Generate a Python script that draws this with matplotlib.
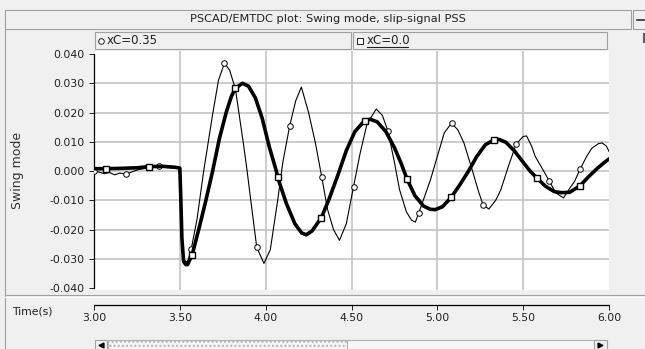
import matplotlib
matplotlib.use("Agg")
import matplotlib.pyplot as plt
from matplotlib.patches import Rectangle
from matplotlib.lines import Line2D

W, H = 645, 349
BG = "#f0f0f0"
EDGE = "#a0a0a0"
GRID = "#c4c4c4"

# xC=0.35 : thin trace, circle markers
t_035 = [3.000, 3.030, 3.060, 3.090, 3.120, 3.150, 3.187, 3.220, 3.260, 3.300,
         3.340, 3.377, 3.420, 3.470, 3.500, 3.505, 3.512, 3.522, 3.537, 3.548,
         3.567, 3.600, 3.639, 3.690, 3.725, 3.760, 3.790, 3.824, 3.870, 3.892,
         3.910, 3.948, 3.990, 4.027, 4.070, 4.100, 4.140, 4.175, 4.208, 4.250,
         4.290, 4.327, 4.360, 4.395, 4.430, 4.470, 4.512, 4.550, 4.590, 4.644,
         4.680, 4.712, 4.750, 4.780, 4.820, 4.850, 4.872, 4.892, 4.930, 4.960,
         5.000, 5.040, 5.083, 5.120, 5.155, 5.200, 5.240, 5.266, 5.300, 5.340,
         5.370, 5.414, 5.459, 5.500, 5.520, 5.550, 5.570, 5.600, 5.651, 5.690,
         5.735, 5.770, 5.800, 5.832, 5.870, 5.900, 5.940, 5.960, 5.985, 6.000]
v_035 = [0.0000, -0.0004, -0.0009, -0.0005, -0.0013, -0.0007, -0.0011, -0.0003, 0.0005, 0.0009,
         0.0014, 0.0016, 0.0012, 0.0010, 0.0008, -0.0080, -0.0220, -0.0300, -0.0312, -0.0305,
         -0.0265, -0.0165, 0.0000, 0.0190, 0.0310, 0.0369, 0.0345, 0.0280, 0.0095, 0.0000,
         -0.0085, -0.0261, -0.0316, -0.0269, -0.0100, 0.0030, 0.0155, 0.0240, 0.0287, 0.0200,
         0.0095, -0.0022, -0.0130, -0.0200, -0.0237, -0.0180, -0.0053, 0.0060, 0.0160, 0.0212,
         0.0190, 0.0137, 0.0030, -0.0064, -0.0140, -0.0168, -0.0175, -0.0143, -0.0080, -0.0030,
         0.0050, 0.0130, 0.0164, 0.0140, 0.0096, 0.0010, -0.0070, -0.0115, -0.0130, -0.0100,
         -0.0064, 0.0016, 0.0092, 0.0118, 0.0120, 0.0084, 0.0050, 0.0020, -0.0033, -0.0075,
         -0.0092, -0.0060, -0.0035, 0.0007, 0.0050, 0.0078, 0.0094, 0.0096, 0.0085, 0.0067]
marks_035 = [3.000, 3.187, 3.377, 3.567, 3.760, 3.948, 4.140, 4.327, 4.512,
             4.712, 4.892, 5.083, 5.266, 5.459, 5.651, 5.832]

# xC=0.0 : thick trace, square markers
t_00 = [3.000, 3.070, 3.150, 3.250, 3.320, 3.400, 3.470, 3.500, 3.505, 3.512,
        3.522, 3.535, 3.545, 3.572, 3.610, 3.650, 3.691, 3.730, 3.770, 3.800,
        3.824, 3.865, 3.900, 3.940, 3.980, 4.020, 4.062, 4.070, 4.120, 4.170,
        4.210, 4.237, 4.270, 4.324, 4.370, 4.420, 4.470, 4.520, 4.576, 4.609,
        4.650, 4.700, 4.750, 4.790, 4.823, 4.870, 4.920, 4.960, 4.988, 5.030,
        5.081, 5.130, 5.182, 5.230, 5.280, 5.332, 5.360, 5.400, 5.450, 5.500,
        5.540, 5.580, 5.630, 5.680, 5.720, 5.770, 5.800, 5.832, 5.880, 5.930,
        5.970, 6.000]
v_00 = [0.0008, 0.0008, 0.0009, 0.0011, 0.0015, 0.0016, 0.0013, 0.0010, -0.0080, -0.0230,
        -0.0310, -0.0320, -0.0320, -0.0286, -0.0200, -0.0105, 0.0000, 0.0110, 0.0200, 0.0255,
        0.0283, 0.0300, 0.0290, 0.0250, 0.0180, 0.0085, 0.0000, -0.0022, -0.0110, -0.0180,
        -0.0212, -0.0218, -0.0205, -0.0160, -0.0095, -0.0015, 0.0070, 0.0135, 0.0172, 0.0177,
        0.0168, 0.0135, 0.0080, 0.0025, -0.0027, -0.0085, -0.0120, -0.0131, -0.0132, -0.0122,
        -0.0090, -0.0048, 0.0000, 0.0050, 0.0090, 0.0107, 0.0108, 0.0098, 0.0068, 0.0030,
        0.0000, -0.0024, -0.0052, -0.0070, -0.0074, -0.0073, -0.0062, -0.0050, -0.0020, 0.0008,
        0.0028, 0.0041]
marks_00 = [3.070, 3.320, 3.572, 3.824, 4.070, 4.324, 4.576, 4.823, 5.081,
            5.332, 5.580, 5.832]

y_ticks = [-0.04, -0.03, -0.02, -0.01, 0.0, 0.01, 0.02, 0.03, 0.04]
x_ticks = [3.0, 3.5, 4.0, 4.5, 5.0, 5.5, 6.0]


def fx(x):
    return x / W


def fy(y):
    return 1 - y / H


def box(fig, x0, y0, x1, y1, face=BG, edge=EDGE, lw=0.8, hatch=None):
    r = Rectangle((fx(x0), fy(y1)), fx(x1) - fx(x0), fy(y0) - fy(y1),
                  transform=fig.transFigure, facecolor=face, edgecolor=edge,
                  linewidth=lw, hatch=hatch)
    fig.add_artist(r)


def hline(fig, x0, x1, y, color=EDGE, lw=0.8):
    fig.add_artist(Line2D([fx(x0), fx(x1)], [fy(y), fy(y)], transform=fig.transFigure,
                          color=color, linewidth=lw))


def vline(fig, x, y0, y1, color=EDGE, lw=0.8):
    fig.add_artist(Line2D([fx(x), fx(x)], [fy(y0), fy(y1)], transform=fig.transFigure,
                          color=color, linewidth=lw))


plt.rcParams["font.family"] = ["DejaVu Sans"]
fig = plt.figure(figsize=(W / 100, H / 100), dpi=100, facecolor=BG)

# frame / title bar
box(fig, 5, 9.5, 630.5, 28.5)
fig.text(fx(328), fy(19.5), "PSCAD/EMTDC plot: Swing mode, slip-signal PSS",
         ha="center", va="center", fontsize=8.2, color="#202020")
box(fig, 633, 9.5, 646, 28.5)
hline(fig, 637, 644, 19.5, color="#303030", lw=1.2)
vline(fig, 5, 28.5, 349)
hline(fig, 5, 645, 295)
hline(fig, 5, 645, 296.5, color="white")
box(fig, 642.5, 33, 646, 42, face="#606060", edge="#606060")

# legend bars
box(fig, 94.5, 32.5, 350.5, 48.5)
box(fig, 352.5, 32.5, 607, 48.5)
fig.add_artist(Line2D([fx(100.5)], [fy(40.5)], transform=fig.transFigure, marker="o",
                      markersize=4, mfc="white", mec="#202020", mew=0.7, linestyle="none"))
fig.text(fx(106.5), fy(40.5), "xC=0.35", ha="left", va="center", fontsize=8.5, color="#202020")
fig.add_artist(Line2D([fx(359.5)], [fy(40.5)], transform=fig.transFigure, marker="s",
                      markersize=4, mfc="white", mec="#202020", mew=0.7, linestyle="none"))
fig.text(fx(366.5), fy(40.5), "xC=0.0", ha="left", va="center", fontsize=8.5, color="#202020")
hline(fig, 366.5, 408, 47, color="#202020", lw=0.8)

# main plot
ax = fig.add_axes([fx(94), fy(290), fx(609) - fx(94), fy(51) - fy(290)])
ax.set_facecolor("white")
ax.set_xlim(3.0, 6.0)
ax.set_ylim(-0.04068, 0.04103)
for v in y_ticks[1:-1]:
    ax.axhline(v, color=GRID, linewidth=1.2, zorder=1)
for t in x_ticks[1:-1]:
    ax.axvline(t, color=GRID, linewidth=1.2, zorder=1)

ax.plot(t_035, v_035, color="black", linewidth=0.8, marker="o", markersize=4,
        markevery=[t_035.index(m) for m in marks_035], mfc="white", mec="black",
        mew=0.7, zorder=3)
ax.plot(t_00, v_00, color="black", linewidth=2.6, marker="s", markersize=4,
        markevery=[t_00.index(m) for m in marks_00], mfc="white", mec="black",
        mew=1.0, zorder=4)

for s in ["top", "right", "bottom"]:
    ax.spines[s].set_visible(False)
ax.spines["left"].set_bounds(-0.04, 0.04)
ax.spines["left"].set_linewidth(0.9)
ax.set_xticks([])
ax.set_yticks(y_ticks)
ax.set_yticklabels([f"{v:.3f}" for v in y_ticks])
ax.tick_params(axis="y", length=3.6, width=0.7, pad=3.5, labelsize=7.8, colors="#202020")
ax.set_ylabel("Swing mode", fontsize=9, color="#303030")
ax.yaxis.set_label_coords((24 - 94) / (609 - 94), 0.5)

# time axis in bottom panel
axt = fig.add_axes([fx(94), fy(305), fx(609) - fx(94), 0.001])
axt.set_facecolor("none")
axt.set_xlim(3.0, 6.0)
axt.set_yticks([])
for s in ["top", "left", "right"]:
    axt.spines[s].set_visible(False)
axt.spines["bottom"].set_linewidth(0.9)
axt.set_xticks(x_ticks)
axt.set_xticklabels([f"{t:.2f}" for t in x_ticks])
axt.tick_params(axis="x", length=3.6, width=0.7, pad=2.5, labelsize=7.8, colors="#202020")
fig.text(fx(12), fy(311), "Time(s)", ha="left", va="center", fontsize=7.8, color="#202020")

# scrollbar
box(fig, 94.5, 340, 107.5, 350, face=BG)
box(fig, 107.5, 340, 347, 350, face="#f6f6f6", hatch="....", edge="#b0b0b0")
box(fig, 347, 340, 593.5, 350, face="#f6f6f6", edge="#b0b0b0")
box(fig, 593.5, 340, 606.5, 350, face=BG)
fig.add_artist(Line2D([fx(100.5)], [fy(345)], transform=fig.transFigure, marker="<",
                      markersize=3.5, color="black", linestyle="none"))
fig.add_artist(Line2D([fx(600)], [fy(345)], transform=fig.transFigure, marker=">",
                      markersize=3.5, color="black", linestyle="none"))

fig.savefig("out.png", dpi=100, facecolor=BG)
plt.close(fig)
